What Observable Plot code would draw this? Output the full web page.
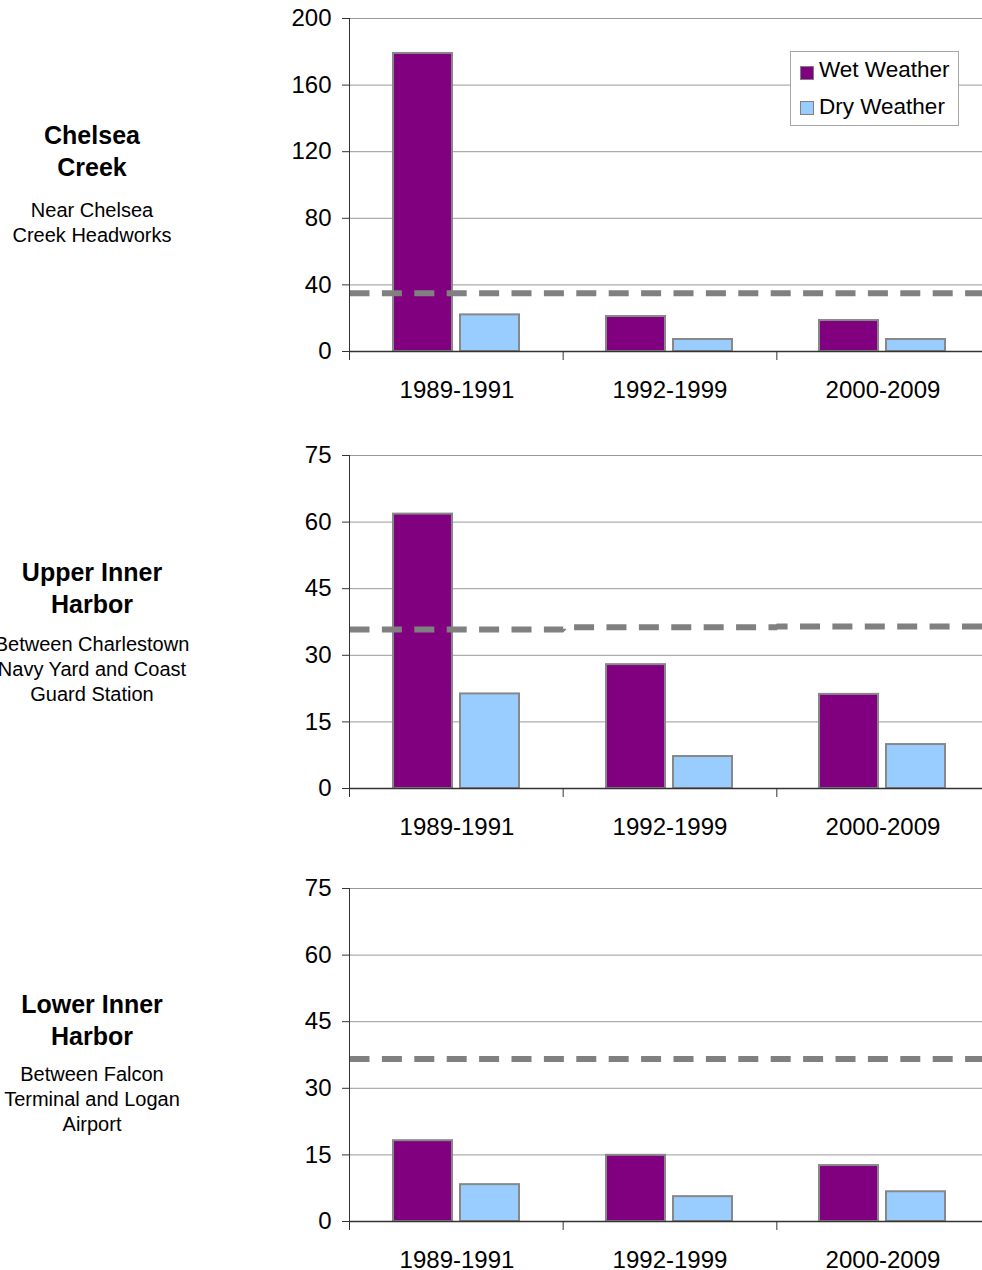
<!DOCTYPE html>
<html>
<head>
<meta charset="utf-8">
<script src="https://cdn.jsdelivr.net/npm/d3@7"></script>
<script src="https://cdn.jsdelivr.net/npm/@observablehq/plot@0.6"></script>
<style>
  html, body { margin: 0; padding: 0; background: #fff; }
  body { font-family: "Liberation Sans", Arial, Helvetica, sans-serif; color: #000; }
  #page { position: relative; width: 982px; height: 1270px; overflow: hidden; background: #fff; }
  .panel { position: absolute; left: 0; width: 1000px; height: 400px; }
  .panel svg { position: absolute; left: 0; top: 0; max-width: none !important; }
  .title { position: absolute; left: -100px; width: 384px; text-align: center; font-weight: bold; font-size: 25px; line-height: 32px; }
  .sub { position: absolute; left: -100px; width: 384px; text-align: center; font-size: 20px; line-height: 25px; }
  .legend { position: absolute; left: 790px; top: 51px; width: 169px; height: 75px; border: 1px solid #a6a6a6; background: #fff; box-sizing: border-box; }
  .legend .sw { position: absolute; left: 9px; width: 14px; height: 14px; border: 1.5px solid #808080; box-sizing: border-box; }
  .legend .lt { position: absolute; left: 28px; font-size: 22.5px; line-height: 26px; white-space: nowrap; }
</style>
</head>
<body>
<div id="page"></div>
<script>
// ---------- data ----------
const periods = ["1989-1991", "1992-1999", "2000-2009"];
const series = ["Wet Weather", "Dry Weather"];
const seriesColors = ["#800080", "#99ccff"];

const siteTitles = [["Chelsea", "Creek"], ["Upper Inner", "Harbor"], ["Lower Inner", "Harbor"]];
const siteDescriptions = [
  ["Near Chelsea", "Creek Headworks"],
  ["Between Charlestown", "Navy Yard and Coast", "Guard Station"],
  ["Between Falcon", "Terminal and Logan", "Airport"]
];

const wetChelsea = [179, 21, 18.6];
const dryChelsea = [22, 7.2, 7.2];
const thresholdChelsea = [35, 35, 35];
const yTicksChelsea = [0, 40, 80, 120, 160, 200];

const wetUpper = [61.8, 27.9, 21.2];
const dryUpper = [21.3, 7.2, 9.9];
const thresholdUpper = [35.8, 36.3, 36.5];
const yTicksUpper = [0, 15, 30, 45, 60, 75];

const wetLower = [18.2, 14.9, 12.6];
const dryLower = [8.3, 5.6, 6.7];
const thresholdLower = [36.6, 36.6, 36.6];
const yTicksLower = [0, 15, 30, 45, 60, 75];

// ---------- layout ----------
const W = 1000, H = 400, ML = 349, MR = 10, MT = 18, MB = 49;
const FONT = '"Liberation Sans", Arial, Helvetica, sans-serif';
const svgStyle = `font-family: ${FONT}; font-size: 24px; color: #000; background: transparent; max-width: none; overflow: visible;`;

const panels = [
  {wet: wetChelsea, dry: dryChelsea, threshold: thresholdChelsea, ticks: yTicksChelsea, legend: true},
  {wet: wetUpper, dry: dryUpper, threshold: thresholdUpper, ticks: yTicksUpper, legend: false},
  {wet: wetLower, dry: dryLower, threshold: thresholdLower, ticks: yTicksLower, legend: false}
];
const panelTops = [0, 437, 870];
const titleTops = [119, 556, 988];
const subTops = [197.5, 632, 1062];

function barsPlot(p) {
  const rows = periods.flatMap((period, i) => [
    {period, series: series[0], value: p.wet[i]},
    {period, series: series[1], value: p.dry[i]}
  ]);
  const yMax = d3.max(p.ticks);
  return Plot.plot({
    width: W, height: H,
    marginLeft: ML, marginRight: MR, marginTop: MT, marginBottom: MB,
    style: svgStyle,
    fx: {domain: periods, padding: 0, label: null},
    x: {domain: series, paddingInner: 0.118, paddingOuter: 0.63, axis: null},
    y: {domain: [0, yMax], axis: null},
    color: {domain: series, range: seriesColors},
    marks: [
      Plot.gridY(p.ticks.filter((v) => v > 0), {stroke: "#999", strokeOpacity: 1, strokeWidth: 1}),
      Plot.barY(rows, {fx: "period", x: "series", y: "value", fill: "series", stroke: "#888", strokeWidth: 2}),
      Plot.axisFx({anchor: "bottom", tickSize: 0, tickPadding: 29, label: null, fontSize: 24})
    ]
  });
}

function overlayPlot(p) {
  const thr = p.threshold.map((value, i) => ({pos: i, value}));
  thr.push({pos: periods.length, value: p.threshold[p.threshold.length - 1]});
  const bounds = d3.range(periods.length + 1);
  const yMax = d3.max(p.ticks);
  return Plot.plot({
    width: W, height: H,
    marginLeft: ML, marginRight: MR, marginTop: MT, marginBottom: MB,
    style: svgStyle,
    x: {type: "linear", domain: [0, periods.length]},
    y: {domain: [0, yMax]},
    marks: [
      Plot.lineY(thr, {x: "pos", y: "value", curve: "step-after", stroke: "#808080", strokeWidth: 6,
        strokeDasharray: "20,12.4", strokeLinecap: "butt", strokeLinejoin: "miter"}),
      Plot.ruleY([0], {stroke: "#333", strokeWidth: 1.5}),
      Plot.ruleX([0], {stroke: "#333", strokeWidth: 1}),
      Plot.axisX(bounds, {tickSize: 9, tickFormat: () => "", label: null, stroke: "#333"}),
      Plot.axisY(p.ticks, {tickSize: 7, tickPadding: 11, label: null, fontSize: 24, stroke: "#333"})
    ]
  });
}

const page = document.getElementById("page");

panels.forEach((p, k) => {
  const wrap = document.createElement("div");
  wrap.className = "panel";
  wrap.style.top = panelTops[k] + "px";
  wrap.appendChild(barsPlot(p));
  wrap.appendChild(overlayPlot(p));
  page.appendChild(wrap);

  const t = document.createElement("div");
  t.className = "title";
  t.style.top = titleTops[k] + "px";
  siteTitles[k].forEach((line) => {
    const d = document.createElement("div");
    d.textContent = line;
    t.appendChild(d);
  });
  page.appendChild(t);

  const s = document.createElement("div");
  s.className = "sub";
  s.style.top = subTops[k] + "px";
  siteDescriptions[k].forEach((line) => {
    const d = document.createElement("div");
    d.textContent = line;
    s.appendChild(d);
  });
  page.appendChild(s);

  if (p.legend) {
    const lg = document.createElement("div");
    lg.className = "legend";
    series.forEach((name, i) => {
      const sw = document.createElement("div");
      sw.className = "sw";
      sw.style.top = (14 + i * 35) + "px";
      sw.style.background = seriesColors[i];
      lg.appendChild(sw);
      const lt = document.createElement("div");
      lt.className = "lt";
      lt.style.top = (5 + i * 36.5) + "px";
      lt.textContent = name;
      lg.appendChild(lt);
    });
    wrap.appendChild(lg);
  }
});
</script>
</body>
</html>
